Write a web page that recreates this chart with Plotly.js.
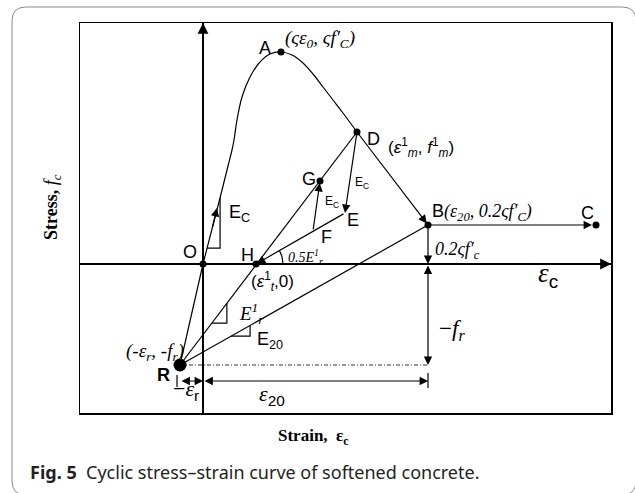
<!DOCTYPE html>
<html><head><meta charset="utf-8">
<script src="https://cdn.plot.ly/plotly-3.0.1.min.js"></script>
<style>html,body{margin:0;padding:0;background:#fff}#chart{width:635px;height:493px}</style>
</head><body><div id="chart"></div>
<script>
// ---------- data (schematic strain / stress values) ----------
const curveStrain = [0, 0.09, 0.17, 0.25, 0.29, 0.31, 0.34, 0.39, 0.47, 0.57, 0.67, 0.78, 0.89, 1.00, 1.10, 1.20, 1.30, 1.40, 1.54];
const curveStress = [0, 0.35, 0.66, 0.98, 1.14, 1.24, 1.44, 1.67, 1.87, 2.02, 2.10, 2.12, 2.09, 2.01, 1.90, 1.77, 1.64, 1.51, 1.32];
const pointNames  = ['O', 'A', 'D', 'B', 'C', 'G', 'E', 'F', 'H', 'R'];
const pointStrain = [0, 0.78, 1.54, 2.25, 3.93, 1.17, 1.42, 1.10, 0.53, -0.23];
const pointStress = [0, 2.12, 1.32, 0.39, 0.39, 0.83, 0.51, 0.33, 0, -1.01];
const dotNames    = ['O', 'A', 'D', 'B', 'C', 'G', 'H'];
const strainRange = [-1.23, 4.08];
const stressRange = [-1.49, 2.41];

// ---------- helpers ----------
const P = {};
pointNames.forEach((n, i) => { P[n] = [pointStrain[i], pointStress[i]]; });
const SANS = 'Liberation Sans, Arial, sans-serif';
const SERIF = 'Liberation Serif, Times New Roman, serif';
const LW = 1.2;

function seg(pts, extra) {
  return Object.assign({
    x: pts.map(p => p[0]), y: pts.map(p => p[1]), mode: 'lines', type: 'scatter', cliponaxis: false,
    line: {color: '#000', width: LW}, hoverinfo: 'skip', showlegend: false
  }, extra || {});
}
function arrow(tail, head, opts) {
  return Object.assign({
    x: head[0], y: head[1], ax: tail[0], ay: tail[1], xref: 'x', yref: 'y', axref: 'x', ayref: 'y',
    text: '', showarrow: true, arrowhead: 2, arrowsize: 1.4, arrowwidth: LW, arrowcolor: '#000', standoff: 0
  }, opts || {});
}
const dbl = {arrowside: 'end+start', startarrowhead: 2, startarrowsize: 1.4};
// right-angle slope triangle on line p->q, starting at fraction t, horizontal run d
function slopeTri(p, q, t, d) {
  const m = (q[1] - p[1]) / (q[0] - p[0]);
  const b = [p[0] + t * (q[0] - p[0]), p[1] + t * (q[1] - p[1])];
  return [b, [b[0] + d, b[1]], [b[0] + d, b[1] + m * d]];
}
function label(x, y, text, size, family, opts) {
  return Object.assign({x: x, y: y, xref: 'x', yref: 'y', text: text, showarrow: false,
    font: {family: family, size: size, color: '#000'}}, opts || {});
}

const curveFirst = [curveStrain[2], curveStress[2]];
const triO = slopeTri(P.O, curveFirst, 0.24, 0.13);
const triEr = slopeTri(P.R, P.D, 0.18, 0.15);
const triE20 = slopeTri(P.R, P.B, 0.206, 0.19);

// angle arc at H between axis and H-E line
const arcR = 0.27, arcAng = Math.atan2(P.E[1] - P.H[1], P.E[0] - P.H[0]);
const arcPts = [];
for (let k = 0; k <= 10; k++) { const a = arcAng * k / 10; arcPts.push([P.H[0] + arcR * Math.cos(a), P.H[1] + arcR * Math.sin(a)]); }

const dimY = -1.17;
const traces = [
  seg([P.R, P.O]),
  {x: curveStrain, y: curveStress, mode: 'lines', type: 'scatter', line: {color: '#000', width: LW, shape: 'spline'}, hoverinfo: 'skip', showlegend: false},
  seg([P.R, P.D]),
  seg([P.R, P.B]),
  seg([P.R, [P.B[0], P.R[1]]], {line: {color: '#333', width: 1, dash: '4px,2px,1px,2px'}}),
  seg(triO), seg(triEr), seg(triE20), seg(arcPts),
  // dimension ticks
  seg([[P.R[0] - 0.03, dimY + 0.06], [P.R[0] - 0.03, dimY - 0.06]]),
  seg([[P.B[0], dimY + 0.08], [P.B[0], dimY - 0.07]]),
  {x: dotNames.map(n => P[n][0]), y: dotNames.map(n => P[n][1]), mode: 'markers', type: 'scatter',
   marker: {color: '#000', size: 7}, hoverinfo: 'skip', showlegend: false},
  {x: [P.R[0]], y: [P.R[1]], mode: 'markers', type: 'scatter', marker: {color: '#000', size: 13}, hoverinfo: 'skip', showlegend: false}
];

const annotations = [
  // axis arrows
  arrow([0, stressRange[1] - 0.2], [0, stressRange[1]], {arrowsize: 1.8}),
  arrow([strainRange[1] - 0.2, 0], [strainRange[1], 0], {arrowsize: 1.8}),
  // path arrows
  arrow([curveStrain[1], curveStress[1]], [0.14, 0.56]),
  arrow(P.D, P.B, {standoff: 2}),
  arrow(P.B, P.C, {standoff: 4}),
  arrow(P.D, P.E),
  arrow(P.F, P.G, {standoff: 2}),
  arrow(P.E, P.H, {standoff: 1}),
  // dimension arrows
  arrow(P.B, [P.B[0], 0]),
  arrow([P.B[0], 0], [P.B[0], P.R[1]], dbl),
  arrow([P.R[0], dimY], [0, dimY], dbl),
  arrow([0, dimY], [P.B[0], dimY], dbl),
  // labels
  label(0.62, 2.16, 'A', 18, SANS),
  label(0.80, 2.25, '<i>(ςε<sub>0</sub>, ςf′<sub>C</sub>)</i>', 19, SERIF, {xanchor: 'left'}),
  label(1.70, 1.25, 'D', 18, SANS),
  label(1.83, 1.17, '(<i>ε</i><sup>1</sup><sub><i>m</i></sub>, <i>f</i><sup>1</sup><sub><i>m</i></sub>)', 17, SANS, {xanchor: 'left'}),
  label(1.06, 0.85, 'G', 18, SANS),
  label(1.50, 0.44, 'E', 18, SANS),
  label(1.59, 0.81, 'E<sub>C</sub>', 12, SANS),
  label(1.29, 0.62, 'E<sub>C</sub>', 12, SANS),
  label(1.23, 0.27, 'F', 18, SANS),
  label(0.44, 0.09, 'H', 18, SANS),
  label(-0.13, 0.12, 'O', 18, SANS),
  label(0.24, 0.51, 'E<sub>C</sub>', 18, SANS, {xanchor: 'left'}),
  label(0.83, 0.07, '<i>0.5E</i><sup><i>1</i></sup><sub><i>r</i></sub>', 14, SERIF, {xanchor: 'left'}),
  label(0.69, -0.17, '(<i>ε</i><sup>1</sup><sub><i>t</i></sub>,0)', 17, SANS),
  label(2.27, 0.52, 'B<i><span style="font-family:Liberation Serif">(ε<sub>20</sub>, 0.2ςf′<sub>C</sub>)</span></i>', 18, SANS, {xanchor: 'left'}),
  label(3.84, 0.51, 'C', 18, SANS),
  label(2.30, 0.14, '<i>0.2ςf′<sub>c</sub></i>', 18, SERIF, {xanchor: 'left'}),
  label(3.45, -0.11, '<i>ε</i><sub><span style="font-family:Liberation Sans">c</span></sub>', 27, SERIF),
  label(2.49, -0.66, '−<i>f</i><sub><i>r</i></sub>', 23, SERIF),
  label(-0.17, -0.88, '<i>(-ε<sub>r</sub>, -f<sub>r</sub>)</i>', 19, SERIF, {xanchor: 'right'}),
  label(-0.40, -1.11, '<b>R</b>', 18, SANS),
  label(-0.17, -1.26, '−<i>ε</i><sub><span style="font-family:Liberation Sans">r</span></sub>', 22, SERIF),
  label(0.69, -1.31, '<i>ε</i><sub><span style="font-family:Liberation Sans">20</span></sub>', 22, SERIF),
  label(0.34, -0.49, '<i>E</i><sup><i>1</i></sup><sub><i>r</i></sub>', 19, SERIF, {xanchor: 'left'}),
  label(0.67, -0.76, 'E<sub>20</sub>', 18, SANS),
  // axis titles
  {xref: 'paper', yref: 'paper', x: (313 - 80) / 531, y: (413 - 437) / 390, xanchor: 'center', yanchor: 'middle',
   showarrow: false, text: '<b>Strain,  ε<sub>c</sub></b>', font: {family: SERIF, size: 17, color: '#000'}},
  {xref: 'paper', yref: 'paper', x: (52 - 80) / 531, y: (413 - 207) / 390, xanchor: 'center', yanchor: 'middle',
   showarrow: false, textangle: -90, text: '<b>Stress,</b> <i>f</i><sub><i>c</i></sub>', font: {family: SERIF, size: 18, color: '#000'}},
  // caption
  {xref: 'paper', yref: 'paper', x: (28 - 80) / 531, y: (413 - 472) / 390, xanchor: 'left', yanchor: 'middle',
   showarrow: false, text: '<b>Fig. 5</b>  Cyclic stress–strain curve of softened concrete.',
   font: {family: 'Noto Sans, sans-serif', size: 18, color: '#231f20'}}
];

// rounded outer border (pixel geometry converted to paper units)
function px2x(px) { return (px - 80) / 531; }
function py2y(py) { return (413 - py) / 390; }
const bl = 12, bt = 7, br = 636, bb = 495, rr = 14;
const borderPath = [
  'M', px2x(bl + rr), py2y(bt), 'L', px2x(br - rr), py2y(bt),
  'Q', px2x(br), py2y(bt), px2x(br), py2y(bt + rr),
  'L', px2x(br), py2y(bb - rr),
  'Q', px2x(br), py2y(bb), px2x(br - rr), py2y(bb),
  'L', px2x(bl + rr), py2y(bb),
  'Q', px2x(bl), py2y(bb), px2x(bl), py2y(bb - rr),
  'L', px2x(bl), py2y(bt + rr),
  'Q', px2x(bl), py2y(bt), px2x(bl + rr), py2y(bt), 'Z'
].map(v => typeof v === 'number' ? v.toFixed(5) : v).join(' ');

const axisCommon = {
  showgrid: false, zeroline: true, zerolinecolor: '#000', zerolinewidth: 1.3,
  showline: true, mirror: true, linecolor: '#000', linewidth: 1.5,
  ticks: '', showticklabels: false, fixedrange: true
};
const layout = {
  width: 635, height: 493,
  margin: {l: 80, r: 24, t: 23, b: 80},
  paper_bgcolor: '#fff', plot_bgcolor: '#fff',
  xaxis: Object.assign({}, axisCommon, {range: strainRange}),
  yaxis: Object.assign({}, axisCommon, {range: stressRange}),
  annotations: annotations,
  shapes: [{type: 'path', xref: 'paper', yref: 'paper', path: borderPath, line: {color: '#8a8a8a', width: 1}}]
};
Plotly.newPlot('chart', traces, layout, {displayModeBar: false, staticPlot: true});
</script>
</body></html>
